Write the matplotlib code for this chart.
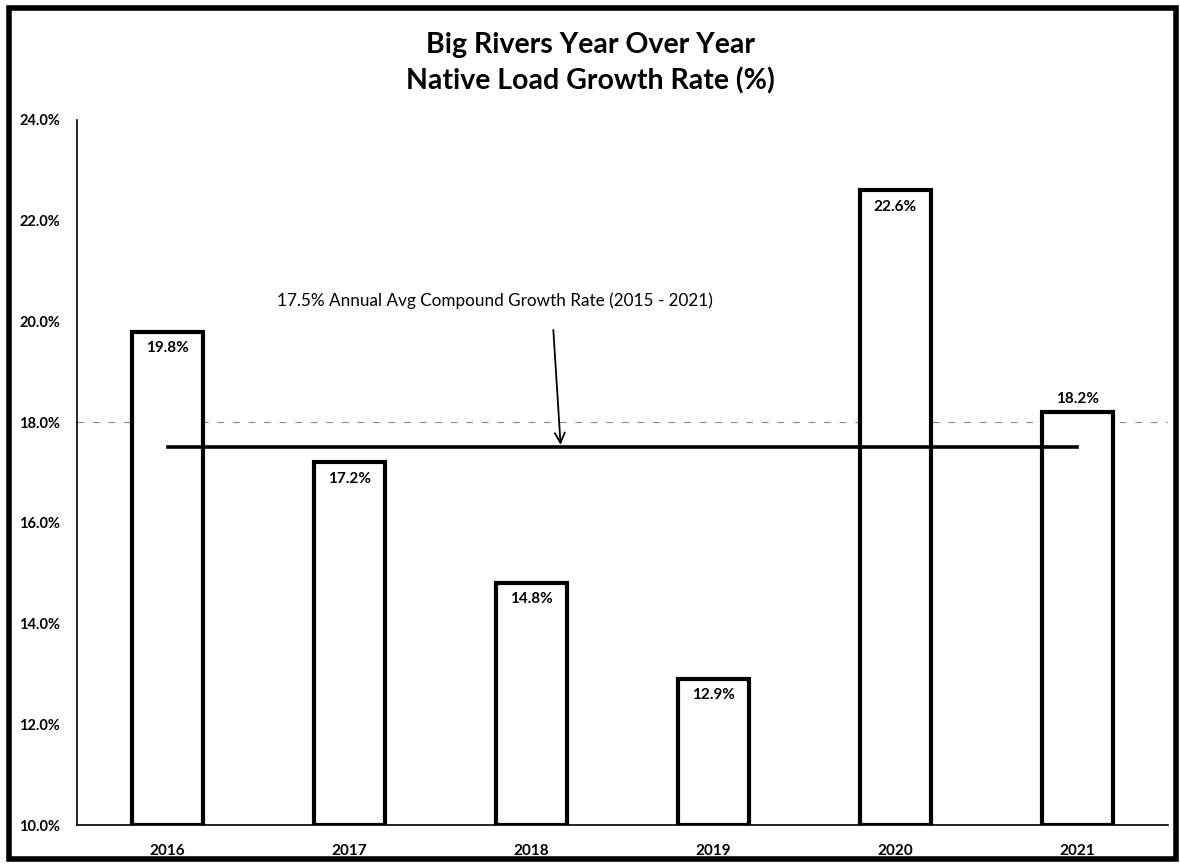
import numpy as np
import matplotlib.pyplot as plt
from matplotlib.patches import Rectangle

# data
years = ['2016', '2017', '2018', '2019', '2020', '2021']
growth = [19.8, 17.2, 14.8, 12.9, 22.6, 18.2]
avg_rate = 17.5
yticks = [10, 12, 14, 16, 18, 20, 22, 24]

plt.rcParams['font.family'] = ['Lato', 'DejaVu Sans']

fig = plt.figure(figsize=(11.8, 8.67), dpi=100)
ax = fig.add_axes([0.065, 0.0484, 0.925, 0.8132])

x = np.arange(len(years))
bars = ax.bar(x, [g - 10 for g in growth], bottom=10, width=0.39,
              facecolor='white', edgecolor='black', linewidth=3, zorder=3)

# value labels: inside near top, except the last one sits above
for i, g in enumerate(growth):
    if i == len(growth) - 1:
        ax.text(i, g + 0.12, '%.1f%%' % g, ha='center', va='bottom',
                fontsize=11, fontweight='bold', zorder=5)
    else:
        ax.text(i, g - 0.18, '%.1f%%' % g, ha='center', va='top',
                fontsize=11, fontweight='bold', zorder=5)

# faint dashed line at 18% (as in the scan)
ax.axhline(18, color='#888888', linewidth=0.8, dashes=(6, 8), zorder=1)

# compound growth line
ax.plot([0, len(years) - 1], [avg_rate, avg_rate], color='black',
        linewidth=2.6, zorder=4)
ax.text(1.8, 20.42, '17.5% Annual Avg Compound Growth Rate (2015 - 2021)',
        ha='center', va='center', fontsize=12.3)
ax.annotate('', xy=(2.16, avg_rate + 0.05), xytext=(2.12, 19.83),
            arrowprops=dict(arrowstyle='->', color='black', lw=1.3,
                            shrinkA=0, shrinkB=0, mutation_scale=18))

ax.set_xlim(-0.5, len(years) - 0.5)
ax.set_ylim(10, 24)
ax.set_xticks(x)
ax.set_xticklabels(years, fontsize=11, fontweight='bold')
ax.set_yticks(yticks)
ax.set_yticklabels(['%.1f%%' % t for t in yticks], fontsize=10.5, fontweight='bold')
ax.tick_params(axis='x', length=0, pad=14)
ax.tick_params(axis='y', length=0, pad=12)
for s in ['top', 'right']:
    ax.spines[s].set_visible(False)
ax.spines['left'].set_linewidth(1.2)
ax.spines['bottom'].set_linewidth(1.2)

fig.text(0.5, 0.948, 'Big Rivers Year Over Year', ha='center', va='center',
         fontsize=20.5, fontweight='bold')
fig.text(0.5, 0.907, 'Native Load Growth Rate (%)', ha='center', va='center',
         fontsize=20.5, fontweight='bold')

# thick frame around the whole chart
fig.patches.append(Rectangle((9 / 1180, 8 / 867), 1167 / 1180, 851 / 867,
                             transform=fig.transFigure, fill=False,
                             edgecolor='black', linewidth=4))

fig.savefig('out.png', dpi=100)
